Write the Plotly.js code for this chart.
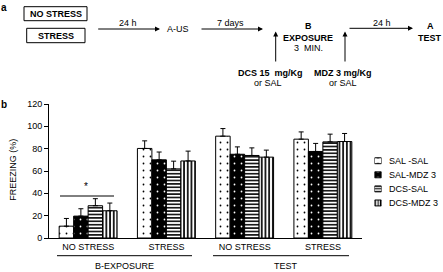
<!DOCTYPE html>
<html>
<head>
<meta charset="utf-8">
<script src="https://cdn.plot.ly/plotly-3.0.1.min.js"></script>
<style>html,body{margin:0;padding:0;background:#fff;}#chart{width:443px;height:272px;}</style>
</head>
<body>
<div id="chart"></div>
<script>
// ---- data ----
var phases = ['B-EXPOSURE', 'B-EXPOSURE', 'TEST', 'TEST'];
var conditions = ['NO STRESS', 'STRESS', 'NO STRESS', 'STRESS'];
var seriesNames = ['SAL -SAL', 'SAL-MDZ 3', 'DCS-SAL', 'DCS-MDZ 3'];
var salSal   = [10.6, 80.2, 91.2, 88.5];
var salMdz   = [19.6, 70.0, 75.0, 77.5];
var dcsSal   = [28.9, 61.9, 73.9, 86.1];
var dcsMdz   = [24.4, 69.0, 72.4, 86.4];
var errSalSal = [6.9, 6.8, 6.8, 6.5];
var errSalMdz = [6.6, 7.0, 6.6, 7.2];
var errDcsSal = [6.3, 6.9, 6.8, 6.9];
var errDcsMdz = [6.9, 8.8, 6.3, 7.2];
var yTicks = [0, 20, 40, 60, 80, 100, 120];

var FONT = 'Liberation Sans, Arial, Helvetica, sans-serif';
var values = [salSal, salMdz, dcsSal, dcsMdz];
var errs = [errSalSal, errSalMdz, errDcsSal, errDcsMdz];
var pShape = ['.', '.', '-', '|'];
var pFg = ['#000', '#fff', '#000', '#000'];
var pBg = ['#fff', '#000', '#fff', '#fff'];
var pSize = [7, 7, 3.4, 3.7];
var pSolid = [0.05, 0.05, 0.45, 0.45];
var swSize = [7, 7, 2.6, 2.4];
var swSolid = [0.1, 0.1, 0.45, 0.45];

// unique category keys for the x axis, labelled with the condition only
var keys = phases.map(function (p, i) { return p + '|' + conditions[i]; });

var traces = values.map(function (v, i) {
  return {
    type: 'bar',
    name: seriesNames[i],
    x: keys,
    y: v,
    showlegend: false,
    marker: {color: pBg[i], line: {color: '#000', width: 1},
             pattern: {shape: pShape[i], fgcolor: pFg[i], bgcolor: pBg[i], size: pSize[i], solidity: pSolid[i]}},
    error_y: {type: 'data', symmetric: false, array: errs[i], arrayminus: errs[i].map(function(){return 0;}),
              color: '#000', thickness: 1, width: 2.5}
  };
});

// legend swatches: one small bar per series on an inset axis
seriesNames.forEach(function (n, i) {
  traces.push({
    type: 'bar', orientation: 'h', xaxis: 'x2', yaxis: 'y2', showlegend: false, offsetgroup: 'sw',
    x: [1], y: [n], width: 0.42,
    marker: {color: pBg[i], line: {color: '#000', width: 1},
             pattern: {shape: pShape[i], fgcolor: pFg[i], bgcolor: pBg[i], size: swSize[i], solidity: swSolid[i]}},
    hoverinfo: 'skip'
  });
});

// pixel -> paper helpers (paper area: x 49..433, y 104..238; main plot x 49..362)
var PW = 384;
function px(x) { return (x - 49) / PW; }
function py(y) { return (238 - y) / 134; }

function txt(t, x, y, bold, size) {
  return {text: bold ? '<b>' + t + '</b>' : t, x: px(x), y: py(y), xref: 'paper', yref: 'paper',
          showarrow: false, xanchor: 'center', yanchor: 'middle',
          font: {family: FONT, size: size || 9, color: '#000'}};
}
function arrow(x0, y0, x1, y1) {
  return {text: '', x: px(x1), y: py(y1), xref: 'paper', yref: 'paper', showarrow: true,
          ax: x0 - x1, ay: y0 - y1, arrowhead: 2, arrowsize: 1, arrowwidth: 1, arrowcolor: '#000'};
}

var annotations = [
  txt('a', 4, 7, true, 10),
  txt('b', 4, 104, true, 10),
  txt('NO STRESS', 55.5, 13.7, true),
  txt('STRESS', 56, 35.5, true),
  txt('24 h', 128, 22.5),
  txt('A-US', 178, 29.5),
  txt('7 days', 230, 22.5),
  txt('B', 308, 26, true),
  txt('EXPOSURE', 308, 37.5, true),
  txt('3  MIN.', 308, 47.7),
  txt('24 h', 381.7, 22.5),
  txt('A', 430, 26.5, true),
  txt('TEST', 430, 37.5, true),
  txt('DCS 15  mg/Kg', 270, 73.3, true),
  txt('or SAL', 268, 83.3),
  txt('MDZ 3 mg/Kg', 343, 73.3, true),
  txt('or SAL', 343, 83.3),
  txt('*', 86, 186, false, 10),
  txt(phases[0], 124, 265.5),
  txt(phases[2], 285.5, 265.5),
  arrow(96.7, 29, 160, 29),
  arrow(200, 29, 263, 29),
  arrow(275.7, 63, 275.7, 31.5),
  arrow(345, 63, 345, 31.5),
  arrow(348, 28.3, 413, 28.3),
  {text: 'FREEZING (%)', x: px(12.7), y: py(170), xref: 'paper', yref: 'paper', showarrow: false,
   textangle: -90, xanchor: 'center', yanchor: 'middle', font: {family: FONT, size: 9, color: '#000'}}
];
seriesNames.forEach(function (n) {
  annotations.push({text: n, x: px(387), y: n, xref: 'paper', yref: 'y2', showarrow: false,
                    xanchor: 'left', yanchor: 'middle', font: {family: FONT, size: 9, color: '#000'}});
});

var shapes = [
  {type: 'rect', xref: 'paper', yref: 'paper', x0: px(24), x1: px(87), y0: py(6.7), y1: py(20.7), line: {color: '#000', width: 1}},
  {type: 'rect', xref: 'paper', yref: 'paper', x0: px(26.7), x1: px(85), y0: py(28.3), y1: py(42.7), line: {color: '#000', width: 1}},
  {type: 'line', xref: 'paper', yref: 'paper', x0: px(60), x1: px(114), y0: py(196), y1: py(196), line: {color: '#000', width: 1}},
  {type: 'line', xref: 'paper', yref: 'paper', x0: px(57), x1: px(192), y0: py(255.7), y1: py(255.7), line: {color: '#000', width: 1}},
  {type: 'line', xref: 'paper', yref: 'paper', x0: px(213), x1: px(349), y0: py(255.7), y1: py(255.7), line: {color: '#000', width: 1}}
];

var layout = {
  width: 443, height: 272,
  margin: {l: 49, r: 443 - 49 - PW, t: 104, b: 34, pad: 0},
  paper_bgcolor: '#fff', plot_bgcolor: 'rgba(0,0,0,0)',
  font: {family: FONT, size: 9, color: '#000'},
  barmode: 'group', bargap: 0.26, bargroupgap: 0,
  showlegend: false,
  xaxis: {domain: [0, px(362)], type: 'category', tickvals: keys, ticktext: conditions, showline: true,
          linecolor: '#000', linewidth: 1, ticks: '', showgrid: false, zeroline: false, range: [-0.5, 3.5],
          tickfont: {family: FONT, size: 9, color: '#000'}},
  yaxis: {range: [0, 120], tickvals: yTicks, showline: true, linecolor: '#000', linewidth: 1, ticks: 'outside',
          ticklen: 4, tickcolor: '#000', showgrid: false, zeroline: false,
          tickfont: {family: FONT, size: 9, color: '#000'}},
  xaxis2: {domain: [px(374.5), px(381.5)], anchor: 'y2', range: [0, 1], visible: false, fixedrange: true},
  yaxis2: {domain: [py(210), py(153.7)], anchor: 'x2', type: 'category', autorange: 'reversed', visible: false, fixedrange: true},
  annotations: annotations,
  shapes: shapes
};

Plotly.newPlot('chart', traces, layout, {staticPlot: true, displayModeBar: false});
</script>
</body>
</html>
